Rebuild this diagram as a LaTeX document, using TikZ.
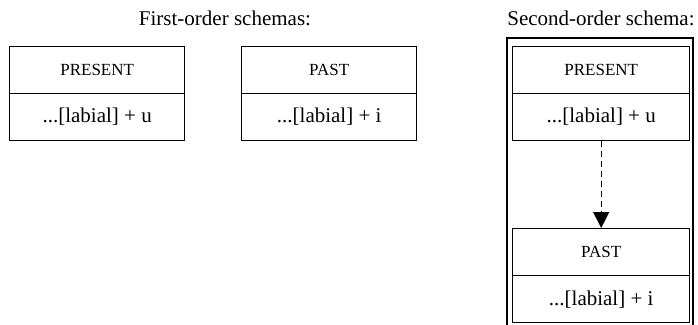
\documentclass[tikz,border=0pt]{standalone}
\usepackage{fontspec}
\setmainfont{Liberation Serif}
\usetikzlibrary{arrows.meta}
\begin{document}
\begin{tikzpicture}[x=1pt,y=-1pt,
  cell/.style={draw,line width=1.4pt,minimum width=175pt,minimum height=47pt,
    inner sep=0pt,anchor=north west},
  headtext/.style={font=\fontsize{17}{20}\selectfont},
  bodytext/.style={font=\fontsize{21}{24}\selectfont},
  title/.style={font=\fontsize{21}{24}\selectfont,inner sep=0pt}]
\useasboundingbox (0,0) rectangle (698,324);
% titles
\node[title] (t1) at (225,18) {First-order schemas:};
\node[title] (t2) at (601,18) {Second-order schema:};
% first-order schemas
\node[cell,headtext] (p1h) at (9,45.5) {PRESENT};
\node[cell,bodytext] (p1b) at (9,92.5) {...[labial] + u};
\node[cell,headtext] (q1h) at (241,45.5) {PAST};
\node[cell,bodytext] (q1b) at (241,92.5) {...[labial] + i};
% second-order schema: frame open at the bottom
\draw[line width=1.6pt] (507,330) -- (507,38) -- (693,38) -- (693,330);
\node[cell,headtext,minimum width=177pt] (p2h) at (512,45.5) {PRESENT};
\node[cell,bodytext,minimum width=177pt] (p2b) at (512,92.5) {...[labial] + u};
\node[cell,headtext,minimum width=177pt] (q2h) at (512,228) {PAST};
\node[cell,bodytext,minimum width=177pt] (q2b) at (512,275) {...[labial] + i};
\draw[line width=1.3pt,dash pattern=on 6pt off 4pt,
  -{Triangle[length=16pt,width=16pt]}] (p2b.south) -- (q2h.north);
\end{tikzpicture}
\end{document}
